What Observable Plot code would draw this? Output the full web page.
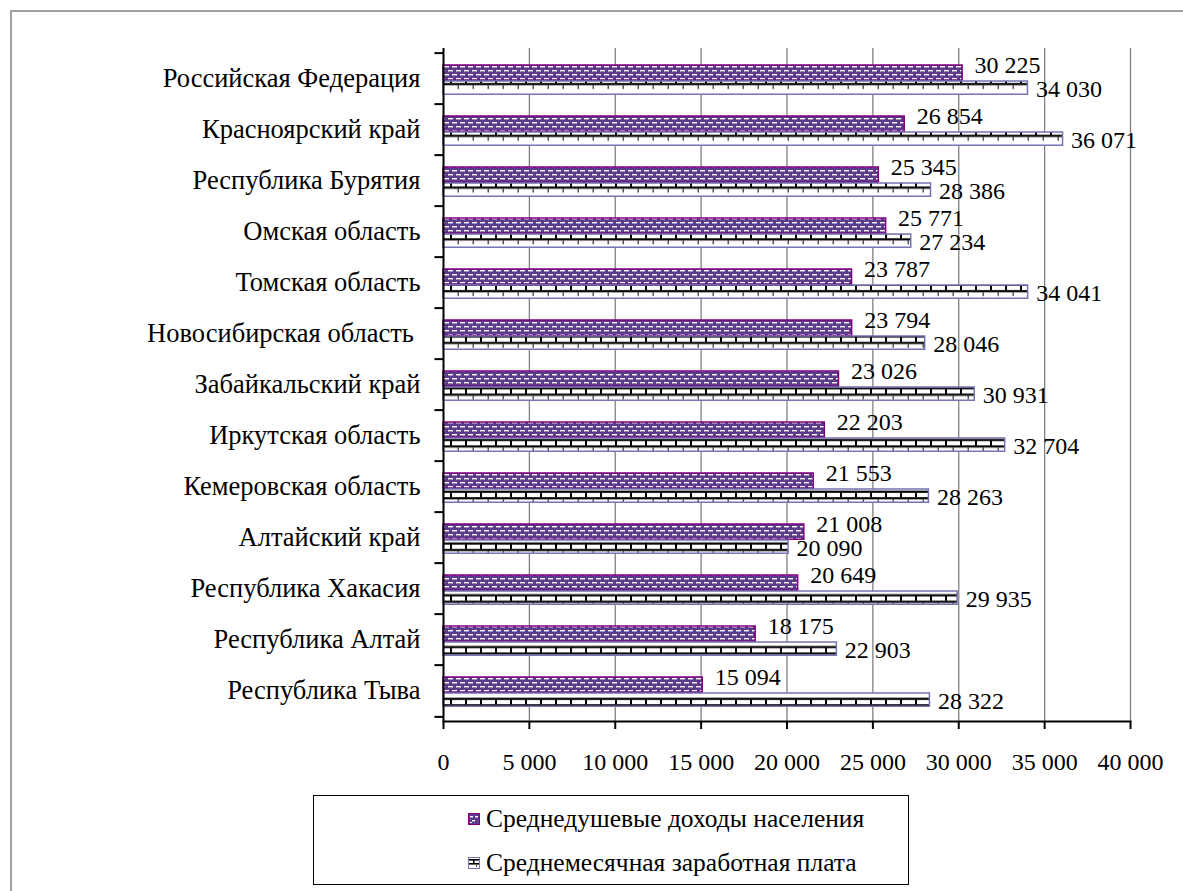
<!DOCTYPE html>
<html><head><meta charset="utf-8">
<script src="https://cdn.jsdelivr.net/npm/d3@7"></script>
<script src="https://cdn.jsdelivr.net/npm/@observablehq/plot@0.6"></script>
<style>
html,body{margin:0;padding:0;background:#fff;overflow:hidden;}
#wrap{position:relative;width:1183px;height:891px;overflow:hidden;font-family:"Liberation Serif","Times New Roman",serif;}
#frame{position:absolute;left:10px;top:10px;width:3000px;height:3000px;border:2px solid #a0a0a0;box-sizing:border-box}
#chart{position:absolute;left:0;top:0}
#legend{position:absolute;left:313px;top:795px;width:596px;height:90px;border:1px solid #000;box-sizing:border-box;background:#fff}
.item{position:absolute;left:154px;height:30px;display:flex;align-items:center;font-size:25.5px;line-height:1;white-space:nowrap;color:#000}
.item svg{margin-right:6px;flex:none}
svg text{white-space:pre}
</style>
</head><body>
<div id="wrap"><div id="frame"></div><div id="chart"></div><div id="legend"></div></div>
<script>
const categories = ["Российская Федерация","Красноярский край","Республика Бурятия","Омская область","Томская область","Новосибирская область ","Забайкальский край","Иркутская область","Кемеровская область","Алтайский край","Республика Хакасия","Республика Алтай","Республика Тыва"];
const income = [30225,26854,25345,25771,23787,23794,23026,22203,21553,21008,20649,18175,15094];
const wage = [34030,36071,28386,27234,34041,28046,30931,32704,28263,20090,29935,22903,28322];
const xTicks = [0,5000,10000,15000,20000,25000,30000,35000,40000];
const seriesNames = ["Среднедушевые доходы населения","Среднемесячная заработная плата"];

const locale = d3.formatLocale({decimal:",", thousands:"\u00a0", grouping:[3], currency:["",""]});
const fmt = locale.format(",d");

const incomeRows = categories.map((c,i)=>({cat:c, value:income[i]}));
const wageRows = categories.map((c,i)=>({cat:c, value:wage[i]}));

const W=1183, H=891, mT=48, mB=170, mL=443, mR=53;
const bw = (H-mT-mB)/categories.length;

const chart = Plot.plot({
  width:W, height:H, marginLeft:mL, marginRight:mR, marginTop:mT, marginBottom:mB,
  style:{fontFamily:'"Liberation Serif","Times New Roman",serif', fontSize:"24px", color:"#000", background:"transparent", overflow:"visible"},
  x:{domain:[0,40000]},
  y:{domain:categories, padding:0},
  marks:[
    Plot.gridX(xTicks.slice(1), {stroke:"#808080", strokeOpacity:1, strokeWidth:1.3}),
    Plot.barX(incomeRows, {x:"value", y:"cat", fill:"url(#patIncome)", stroke:"#800080", strokeWidth:1.5, insetTop:12, insetBottom:bw-28}),
    Plot.barX(wageRows, {x:"value", y:"cat", fill:"url(#patWage)", stroke:"#7474b4", strokeWidth:1.5, insetTop:28, insetBottom:bw-42}),
    Plot.axisX({ticks:xTicks, tickFormat:fmt, tickSize:8, tickPadding:23, label:null, fontSize:24, strokeWidth:2}),
    Plot.axisY({tickSize:0, tickPadding:23, label:null, fontSize:26.5}),
    Plot.ruleY(categories, {y:d=>d, x1:-500, x2:0, dy:-bw/2, stroke:"#000", strokeWidth:2}),
    Plot.ruleY(categories.slice(-1), {y:d=>d, x1:-500, x2:0, dy:bw/2, stroke:"#000", strokeWidth:2}),
    Plot.ruleX([0], {stroke:"#000", strokeWidth:2}),
    Plot.frame({anchor:"bottom", stroke:"#000", strokeWidth:2}),
    Plot.text(incomeRows, {x:"value", y:"cat", text:d=>fmt(d.value), textAnchor:"start", dx:12, dy:-14, fontSize:24, fill:"#000"}),
    Plot.text(wageRows, {x:"value", y:"cat", text:d=>fmt(d.value), textAnchor:"start", dx:8, dy:10, fontSize:24, fill:"#000"})
  ]
});

// patterns
const svg = d3.select(chart);
const defs = svg.insert("defs", ":first-child");
const pI = defs.append("pattern").attr("id","patIncome").attr("patternUnits","userSpaceOnUse")
  .attr("x",0).attr("y",mT+12).attr("width",8).attr("height",8);
pI.append("rect").attr("width",8).attr("height",8).attr("fill","#5c3b8c");
pI.append("rect").attr("x",0).attr("y",2).attr("width",5).attr("height",1.4).attr("fill","#fff");
pI.append("rect").attr("x",4).attr("y",6).attr("width",5).attr("height",1.4).attr("fill","#fff");
pI.append("rect").attr("x",-4).attr("y",6).attr("width",5).attr("height",1.4).attr("fill","#fff");

const pW = defs.append("pattern").attr("id","patWage").attr("patternUnits","userSpaceOnUse")
  .attr("x",0).attr("y",mT).attr("width",15).attr("height",bw);
pW.append("rect").attr("width",15).attr("height",bw).attr("fill","#fff");
pW.append("rect").attr("x",0).attr("y",28.5).attr("width",15).attr("height",2.2).attr("fill","#000");
pW.append("rect").attr("x",0).attr("y",30).attr("width",2).attr("height",5).attr("fill","#000");
pW.append("rect").attr("x",0).attr("y",35).attr("width",15).attr("height",2.2).attr("fill","#000");
pW.append("rect").attr("x",7.5).attr("y",37).attr("width",1.5).attr("height",4).attr("fill","#555");

document.getElementById("chart").appendChild(chart);

// legend
const legend = document.getElementById("legend");
const sym = [
  `<svg width="12" height="12"><rect x="0.5" y="0.5" width="11" height="11" fill="#5c3b8c" stroke="#800080"/><rect x="2" y="3" width="3" height="1.4" fill="#fff"/><rect x="7" y="3" width="3" height="1.4" fill="#fff"/><rect x="4" y="7" width="3" height="1.4" fill="#fff"/><rect x="2" y="9" width="2" height="1" fill="#fff"/></svg>`,
  `<svg width="12" height="12"><rect x="0.5" y="0.5" width="11" height="11" fill="#fff" stroke="#7474b4"/><rect x="1" y="2" width="10" height="1.6" fill="#000"/><rect x="1" y="6" width="10" height="1.6" fill="#000"/><rect x="5" y="2" width="1.5" height="4" fill="#000"/><rect x="8" y="7" width="1.2" height="3" fill="#555"/></svg>`
];
const rowsY = [8, 52];
seriesNames.forEach((n,i)=>{
  const d = document.createElement("div");
  d.className = "item";
  d.style.top = rowsY[i]+"px";
  d.innerHTML = sym[i] + `<span>${n}</span>`;
  legend.appendChild(d);
});
</script>
</body></html>
